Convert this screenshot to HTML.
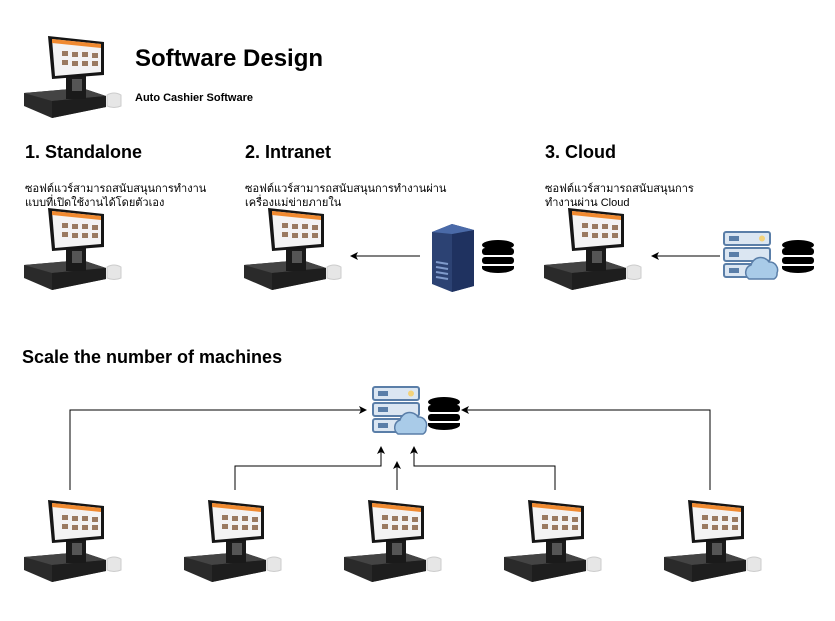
<!DOCTYPE html>
<html><head><meta charset="utf-8"><style>
body{margin:0;width:835px;height:621px;background:#fff;position:relative;overflow:hidden;font-family:"Liberation Sans","Noto Sans CJK SC",sans-serif;color:#000}
.t{position:absolute;white-space:nowrap}
.h{font-weight:bold;font-size:18px}
.th{font-size:11px;line-height:13px;font-family:"Liberation Sans","Noto Sans CJK SC","DejaVu Sans",sans-serif}
svg{position:absolute;left:0;top:0}
</style></head><body>
<svg width="835" height="621" viewBox="0 0 835 621">
<defs>
<g id="pos">
<polygon points="2,60 60,55 84,63 84,74 30,85 2,73" fill="#2a2a2a"/>
<polygon points="2,60 60,55 84,63 30,68" fill="#444"/>
<polygon points="30,68 84,63 84,74 30,85" fill="#1e1e1e"/>
<rect x="44" y="36" width="20" height="30" fill="#1a1a1a"/>
<rect x="50" y="46" width="10" height="12" fill="#555"/>
<polygon points="26,3 82,9 82,42 30,46" fill="#151515"/>
<polygon points="30,6 79,11 79,39 33,43" fill="#f3f3f3"/>
<polygon points="30,6 79,11 79,15 30,10" fill="#f08a30"/>
<g fill="#9a7a60"><rect x="40" y="18" width="6" height="5"/><rect x="50" y="19" width="6" height="5"/><rect x="60" y="19" width="6" height="5"/><rect x="70" y="20" width="6" height="5"/><rect x="40" y="27" width="6" height="5"/><rect x="50" y="28" width="6" height="5"/><rect x="60" y="28" width="6" height="5"/><rect x="70" y="28" width="6" height="5"/></g>
<path d="M85,62 q7,-4 14,0 v11 q-7,3 -14,0z" fill="#e6e6e6" stroke="#ccc"/>
</g>
<g id="srv">
<rect x="0" y="0" width="46" height="13" rx="2" fill="#dbe6f2" stroke="#5a7ea8" stroke-width="2"/>
<rect x="0" y="16" width="46" height="13" rx="2" fill="#dbe6f2" stroke="#5a7ea8" stroke-width="2"/>
<rect x="0" y="32" width="46" height="13" rx="2" fill="#dbe6f2" stroke="#5a7ea8" stroke-width="2"/>
<g fill="#5a7ea8"><rect x="5" y="4" width="10" height="5"/><rect x="5" y="20" width="10" height="5"/><rect x="5" y="36" width="10" height="5"/></g>
<circle cx="38" cy="6.5" r="3" fill="#f3d27a"/>
<path d="M25,47 a8,8 0 0 1 2,-14 a10,10 0 0 1 18,-3 a8,8 0 0 1 8,11 a6,6 0 0 1 -3,6z" fill="#a9cbe8" stroke="#5a7ea8" stroke-width="1.5"/>
</g>
<g id="db">
<ellipse cx="16" cy="5" rx="16" ry="5" fill="#000"/>
<rect x="0" y="8" width="32" height="7" fill="#000" rx="3"/>
<rect x="0" y="17" width="32" height="7" fill="#000" rx="3"/>
<path d="M0,26 h32 v2 a16,5 0 0 1 -32,0z" fill="#000"/>
</g>
<marker id="a" markerWidth="8" markerHeight="8" refX="7" refY="4" orient="auto"><path d="M0,0 L8,4 L0,8 L2,4z" fill="#000"/></marker>
</defs>
<use href="#pos" x="22" y="33"/>
<use href="#pos" x="22" y="205"/>
<use href="#pos" x="242" y="205"/>
<use href="#pos" x="542" y="205"/>
<use href="#pos" x="22" y="497"/>
<use href="#pos" x="182" y="497"/>
<use href="#pos" x="342" y="497"/>
<use href="#pos" x="502" y="497"/>
<use href="#pos" x="662" y="497"/>
<polygon points="432,232 452,224 474,230 474,286 452,292 432,284" fill="#2c4273"/>
<polygon points="452,234 474,230 474,286 452,292" fill="#1f3260"/>
<polygon points="432,232 452,224 474,230 452,234" fill="#4a6aa8"/>
<g stroke="#7f9acb" stroke-width="2"><line x1="436" y1="262" x2="448" y2="264"/><line x1="436" y1="267" x2="448" y2="269"/><line x1="436" y1="272" x2="448" y2="274"/><line x1="436" y1="277" x2="448" y2="279"/></g>
<use href="#db" x="482" y="240"/>
<use href="#srv" x="724" y="232"/>
<use href="#db" x="782" y="240"/>
<use href="#srv" x="373" y="387"/>
<use href="#db" x="428" y="397"/>
<g stroke="#000" stroke-width="1" fill="none" marker-end="url(#a)">
<line x1="420" y1="256" x2="351" y2="256"/>
<line x1="720" y1="256" x2="652" y2="256"/>
<polyline points="70,490 70,410 366,410"/>
<polyline points="235,490 235,466 381,466 381,447"/>
<polyline points="397,490 397,462"/>
<polyline points="555,490 555,466 414,466 414,447"/>
<polyline points="710,490 710,410 462,410"/>
</g>
</svg>
<div class="t" style="left:135px;top:45px;font-size:24px;font-weight:bold">Software Design</div>
<div class="t" style="left:135px;top:92px;font-size:11px;font-weight:bold">Auto Cashier Software</div>
<div class="t h" style="left:25px;top:142px">1. Standalone</div>
<div class="t h" style="left:245px;top:142px">2. Intranet</div>
<div class="t h" style="left:545px;top:142px">3. Cloud</div>
<div class="t th" style="left:25px;top:182px;line-height:14px">ซอฟต์แวร์สามารถสนับสนุนการทำงาน<br>แบบที่เปิดใช้งานได้โดยตัวเอง</div>
<div class="t th" style="left:245px;top:182px;line-height:14px">ซอฟต์แวร์สามารถสนับสนุนการทำงานผ่าน<br>เครื่องแม่ข่ายภายใน</div>
<div class="t th" style="left:545px;top:182px;line-height:14px">ซอฟต์แวร์สามารถสนับสนุนการ<br>ทำงานผ่าน Cloud</div>
<div class="t h" style="left:22px;top:347px">Scale the number of machines</div>
</body></html>
